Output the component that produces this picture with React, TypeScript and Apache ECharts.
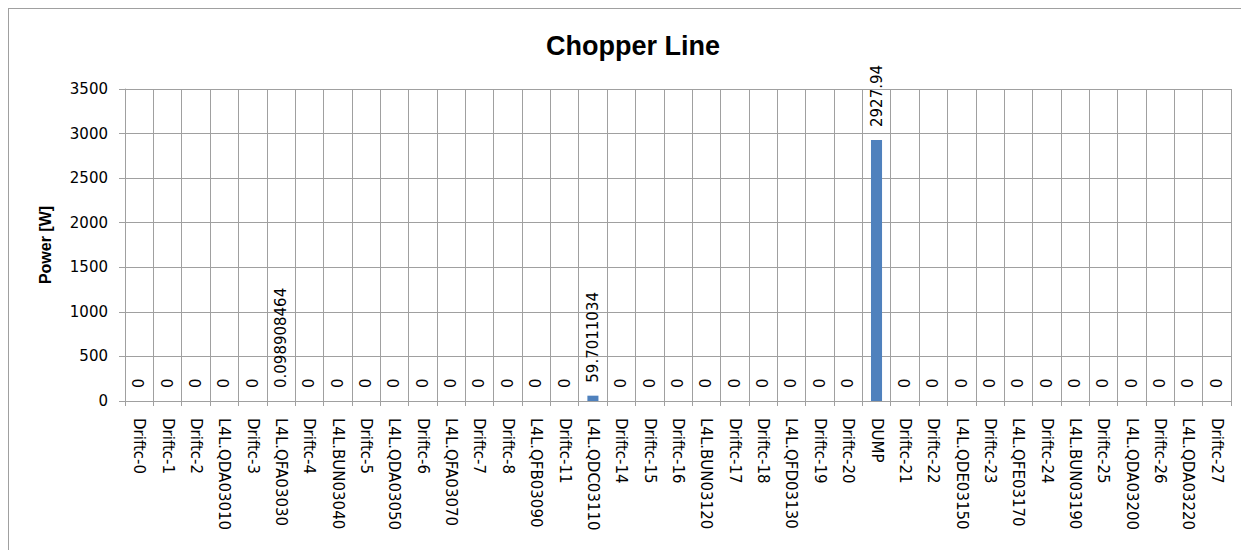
import React, { useEffect, useRef } from "react";
import * as echarts from "echarts";

const categories: string[] = [
  "Driftc-0", "Driftc-1", "Driftc-2", "L4L.QDA03010", "Driftc-3", "L4L.QFA03030",
  "Driftc-4", "L4L.BUN03040", "Driftc-5", "L4L.QDA03050", "Driftc-6", "L4L.QFA03070",
  "Driftc-7", "Driftc-8", "L4L.QFB03090", "Driftc-11", "L4L.QDC03110", "Driftc-14",
  "Driftc-15", "Driftc-16", "L4L.BUN03120", "Driftc-17", "Driftc-18", "L4L.QFD03130",
  "Driftc-19", "Driftc-20", "DUMP", "Driftc-21", "Driftc-22", "L4L.QDE03150",
  "Driftc-23", "L4L.QFE03170", "Driftc-24", "L4L.BUN03190", "Driftc-25", "L4L.QDA03200",
  "Driftc-26", "L4L.QDA03220", "Driftc-27",
];

const powerValues: number[] = [
  0, 0, 0, 0, 0, 0.098908464,
  0, 0, 0, 0, 0, 0,
  0, 0, 0, 0, 59.7011034, 0,
  0, 0, 0, 0, 0, 0,
  0, 0, 2927.94, 0, 0, 0,
  0, 0, 0, 0, 0, 0,
  0, 0, 0,
];

const titleText = "Chopper Line";
const yAxisName = "Power [W]";
const yTicks = { min: 0, max: 3500, interval: 500 };

const LABEL_FONT = "'DejaVu Sans', sans-serif";
const TITLE_FONT = "'Liberation Sans', Arial, sans-serif";
const GRID_COLOR = "#a0a0a0";

export default function App() {
  const ref = useRef<HTMLDivElement>(null);

  useEffect(() => {
    document.body.style.overflow = "hidden";
    if (!ref.current) return;
    const chart = echarts.init(ref.current, undefined, { renderer: "svg" });
    chart.setOption({
      animation: false,
      backgroundColor: "#ffffff",
      graphic: [
        {
          type: "text",
          x: 624,
          y: 37,
          style: {
            text: titleText,
            fontFamily: TITLE_FONT,
            fontWeight: "bold",
            fontSize: 27,
            fill: "#000",
            textAlign: "center",
            textVerticalAlign: "middle",
          },
        },
      ],
      grid: { left: 116, top: 80, width: 1106, height: 312, containLabel: false },
      xAxis: {
        type: "category",
        data: categories,
        boundaryGap: true,
        axisLine: { show: true, lineStyle: { color: GRID_COLOR, width: 1 } },
        axisTick: { show: true, length: 5, interval: 0, lineStyle: { color: GRID_COLOR } },
        splitLine: { show: true, interval: 0, lineStyle: { color: GRID_COLOR, width: 1 } },
        axisLabel: {
          interval: 0,
          rotate: -90,
          margin: 17,
          fontSize: 15,
          fontFamily: LABEL_FONT,
          color: "#000",
        },
      },
      yAxis: {
        type: "value",
        min: yTicks.min,
        max: yTicks.max,
        interval: yTicks.interval,
        name: yAxisName,
        nameLocation: "middle",
        nameRotate: 90,
        nameGap: 72,
        nameTextStyle: {
          fontFamily: TITLE_FONT,
          fontWeight: "bold",
          fontSize: 16,
          color: "#000",
        },
        axisLine: { show: true, lineStyle: { color: GRID_COLOR, width: 1 } },
        axisTick: { show: true, length: 6, lineStyle: { color: GRID_COLOR } },
        splitLine: { show: true, lineStyle: { color: GRID_COLOR, width: 1 } },
        axisLabel: {
          margin: 17,
          fontSize: 15,
          fontFamily: LABEL_FONT,
          color: "#000",
          formatter: (v: number) => String(v),
        },
      },
      series: [
        {
          type: "bar",
          data: powerValues,
          barWidth: "39%",
          itemStyle: { color: "#4F81BD" },
          label: {
            show: true,
            position: "top",
            rotate: 90,
            align: "left",
            verticalAlign: "middle",
            distance: 13,
            fontSize: 15,
            fontFamily: LABEL_FONT,
            color: "#000",
            formatter: (p: any) => String(p.value),
          },
        },
      ],
    });
    return () => chart.dispose();
  }, []);

  return (
    <div
      ref={ref}
      style={{
        width: 1249,
        height: 560,
        borderLeft: "1px solid #a0a0a0",
        borderTop: "1px solid #a0a0a0",
      }}
    />
  );
}
